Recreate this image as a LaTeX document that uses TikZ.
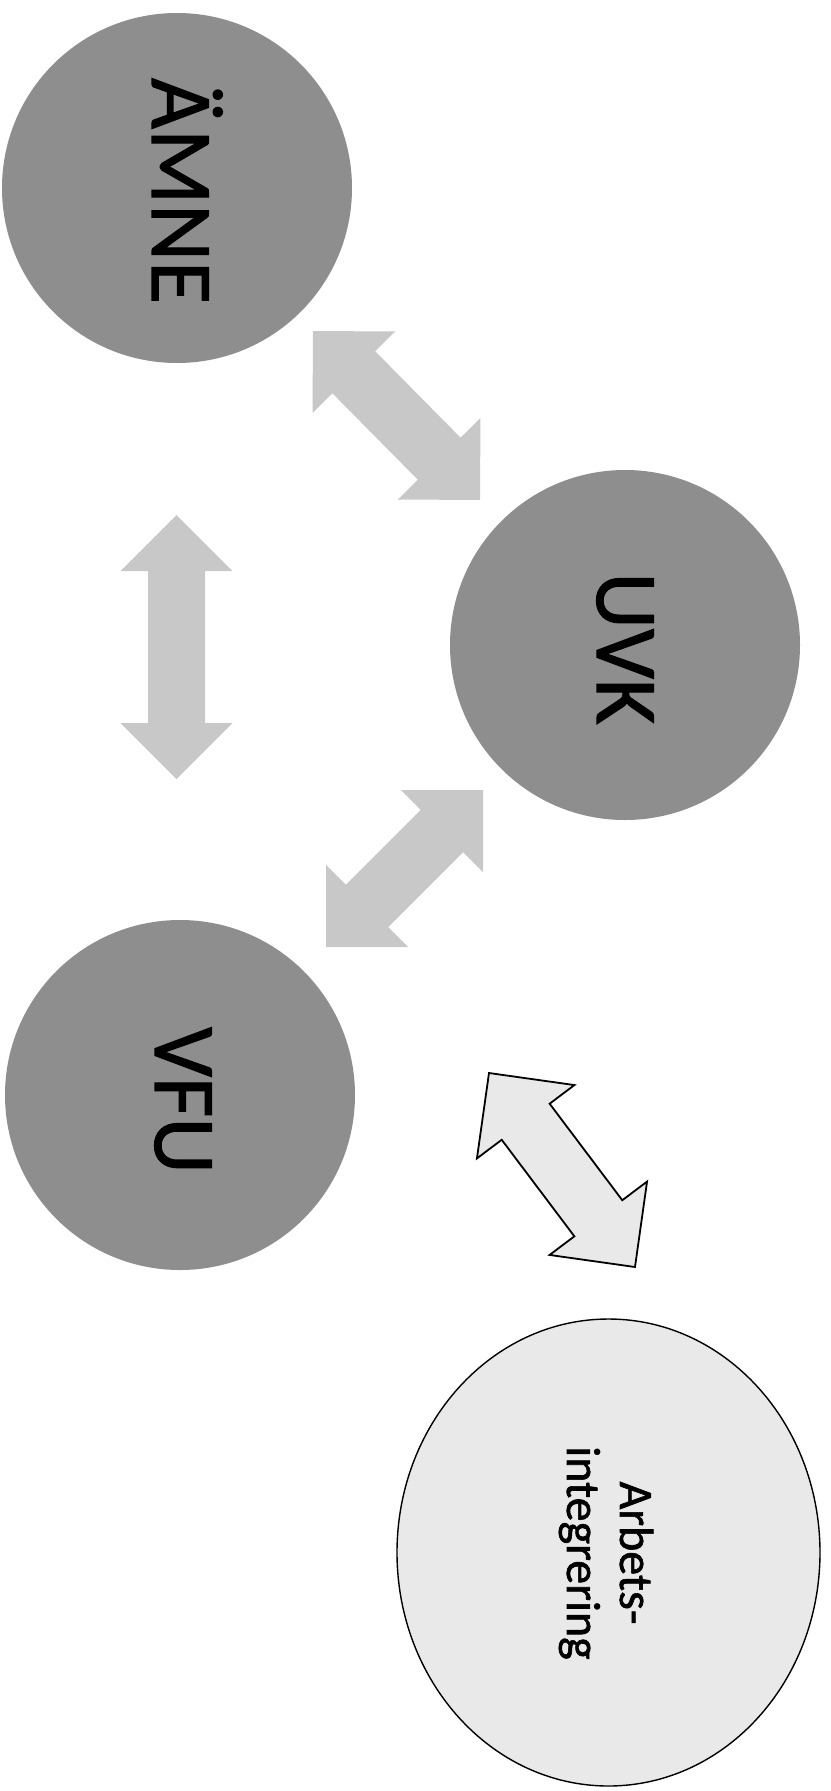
\documentclass[tikz,border=0pt]{standalone}
\usepackage{fontspec}
\setmainfont{Carlito}
\newfontfamily\heavyfont[FakeBold=1.2]{Carlito}
\usetikzlibrary{shapes.geometric}
\definecolor{darkc}{HTML}{8E8E8E}
\definecolor{lightarrow}{HTML}{C8C8C8}
\definecolor{paleback}{HTML}{E9E9E9}
\newcommand{\blockarrow}[6]{%
  \path (#2); \pgfgetlastxy{\bax}{\bay}%
  \path (#3); \pgfgetlastxy{\bbx}{\bby}%
  \pgfmathsetmacro\bang{atan2(\bby-\bay,\bbx-\bax)}%
  \pgfmathsetmacro\blen{veclen(\bbx-\bax,\bby-\bay)}%
  \begin{scope}[shift={(#2)}, rotate=\bang]
    \path[#1] (0pt,0pt) -- (#5pt,#4pt) -- (#5pt,#6pt) -- (\blen pt-#5pt,#6pt)
      -- (\blen pt-#5pt,#4pt) -- (\blen pt,0pt) -- (\blen pt-#5pt,-#4pt)
      -- (\blen pt-#5pt,-#6pt) -- (#5pt,-#6pt) -- (#5pt,-#4pt) -- cycle;
  \end{scope}}
\tikzset{
  bigcircle/.style={circle, fill=darkc, draw=none, minimum size=350pt, inner sep=0pt},
  bigtext/.style={font=\heavyfont\fontsize{88}{100}\selectfont, rotate=-90, anchor=base, inner sep=0pt},
  smalltext/.style={font=\heavyfont\fontsize{48}{56}\selectfont, rotate=-90, anchor=base, inner sep=0pt},
  greyarrow/.style={fill=lightarrow, draw=none},
  openarrow/.style={fill=paleback, draw=black, line width=1.8pt, line join=miter},
  workellipse/.style={ellipse, fill=paleback, draw=black, line width=1.4pt, minimum width=423pt, minimum height=467pt, inner sep=0pt}
}
\begin{document}
\begin{tikzpicture}[x=1pt, y=-1pt]
\useasboundingbox (0,0) rectangle (830,1791);
\fill[white] (0,0) rectangle (830,1791);
% circles
\node[bigcircle] (amne) at (177,188) {};
\node[bigcircle] (uvk) at (625,645) {};
\node[bigcircle] (vfu) at (180,1095) {};
\node[workellipse] (arb) at (608.5,1552.5) {};
% labels
\node[bigtext] (amnet) at (152,191) {ÄMNE};
\node[bigtext] (uvkt) at (597,648.5) {UVK};
\node[bigtext] (vfut) at (155,1100.5) {VFU};
\node[smalltext] (arbt1) at (620,1553) {Arbets-};
\node[smalltext] (arbt2) at (567,1553) {integrering};
% arrow end points
\coordinate (a1s) at (313,331);  \coordinate (a1e) at (480,500);
\coordinate (a2s) at (176.5,515); \coordinate (a2e) at (176.5,779);
\coordinate (a3s) at (326,947);  \coordinate (a3e) at (483,790);
\coordinate (a4s) at (489,1073); \coordinate (a4e) at (635,1267);
\blockarrow{greyarrow}{a1s}{a1e}{58}{58}{30}
\blockarrow{greyarrow}{a2s}{a2e}{56}{56}{28.5}
\blockarrow{greyarrow}{a3s}{a3e}{58}{58}{30}
\blockarrow{openarrow}{a4s}{a4e}{61}{61}{30}
\end{tikzpicture}
\end{document}
